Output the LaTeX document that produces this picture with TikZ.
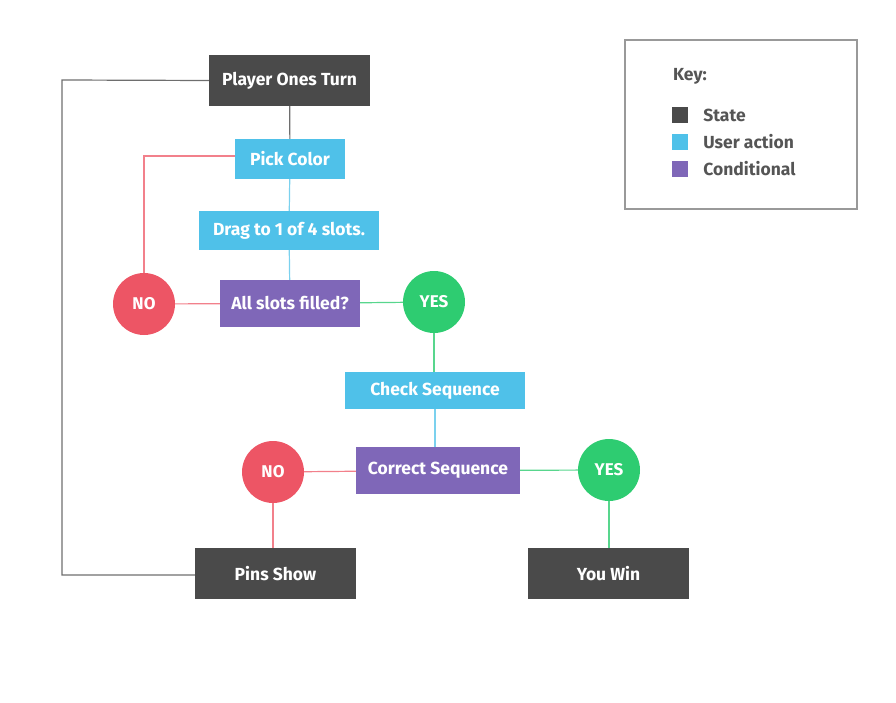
\documentclass[tikz,border=0pt]{standalone}
\usepackage{fontspec}
\setmainfont{Fira Sans}
\usepackage{tikz}
\usetikzlibrary{positioning}
\usepackage{xcolor}
\definecolor{statec}{HTML}{4A4A4A}
\definecolor{actionc}{HTML}{4FC1E9}
\definecolor{condc}{HTML}{7F67B8}
\definecolor{noc}{HTML}{ED5565}
\definecolor{yesc}{HTML}{2ECC71}
\definecolor{keytext}{HTML}{555555}

\begin{document}
\begin{tikzpicture}[x=1pt,y=-1pt,
  box/.style={text=white,font=\bfseries\fontsize{17.5}{20}\selectfont,inner sep=0pt,minimum height=#1},
  statebox/.style={box=51pt,fill=statec,minimum width=161pt},
  actionbox/.style={box=40pt,fill=actionc},
  condbox/.style={box=47pt,fill=condc},
  answer/.style={circle,text=white,font=\bfseries\fontsize{17}{20}\selectfont,minimum size=62pt,inner sep=0pt},
  keylabel/.style={text=keytext,font=\bfseries\fontsize{17.5}{20}\selectfont,inner sep=0pt},
  link/.style={line width=1.2pt}]
\useasboundingbox (0,0) rectangle (896,703);

% key
\draw[line width=2.5pt,color=gray!80] (625,40) rectangle (857,209);
\node[anchor=west,keylabel] (keyhead) at (673,76) {Key:};
\node[fill=statec,minimum size=16pt,inner sep=0pt] (kstate) at (680,115) {};
\node[fill=actionc,minimum size=16pt,inner sep=0pt] (kaction) at (680,142) {};
\node[fill=condc,minimum size=16pt,inner sep=0pt] (kcond) at (680,169) {};
\node[right=15pt of kstate,keylabel] {State};
\node[right=15pt of kaction,keylabel] {User action};
\node[right=15pt of kcond,keylabel] {Conditional};

% flow
\node[statebox] (turn) at (289.5,80.5) {Player Ones Turn};
\node[actionbox,minimum width=110pt] (pick) at (290,159) {Pick Color};
\node[actionbox,minimum width=180pt,minimum height=39pt] (drag) at (289,230.5) {Drag to 1 of 4 slots.};
\node[condbox,minimum width=140pt] (filled) at (290,303.5) {All slots filled?};
\node[answer,fill=noc] (no1) at (144,304) {NO};
\node[answer,fill=yesc] (yes1) at (434,302) {YES};
\node[actionbox,minimum width=180pt,minimum height=37pt] (check) at (435,390.5) {Check Sequence};
\node[condbox,minimum width=164pt] (correct) at (438,470.5) {Correct Sequence};
\node[answer,fill=noc] (no2) at (273,472) {NO};
\node[answer,fill=yesc] (yes2) at (609,470) {YES};
\node[statebox] (pins) at (275.5,573.5) {Pins Show};
\node[statebox] (win) at (608.5,573.5) {You Win};

\draw[link,color=statec!80] (turn) -- (pick);
\draw[link,color=statec!80] (turn.west) -- (62,80) -- (62,575) -- (pins.west |- 0,575);
\draw[link,color=noc!75] (pick.west |- 0,156) -| (no1.north);
\draw[link,color=actionc!75] (pick) -- (drag);
\draw[link,color=actionc!75] (drag) -- (filled);
\draw[link,color=noc!75] (no1) -- (filled);
\draw[link,color=yesc!80] (filled) -- (yes1);
\draw[link,color=yesc!80] (yes1) -- (yes1 |- check.north);
\draw[link,color=actionc!75] (check) -- (check |- correct.north);
\draw[link,color=noc!75] (correct) -- (no2);
\draw[link,color=yesc!80] (correct) -- (yes2);
\draw[link,color=noc!75] (no2) -- (no2 |- pins.north);
\draw[link,color=yesc!80] (yes2) -- (yes2 |- win.north);
\end{tikzpicture}
\end{document}
